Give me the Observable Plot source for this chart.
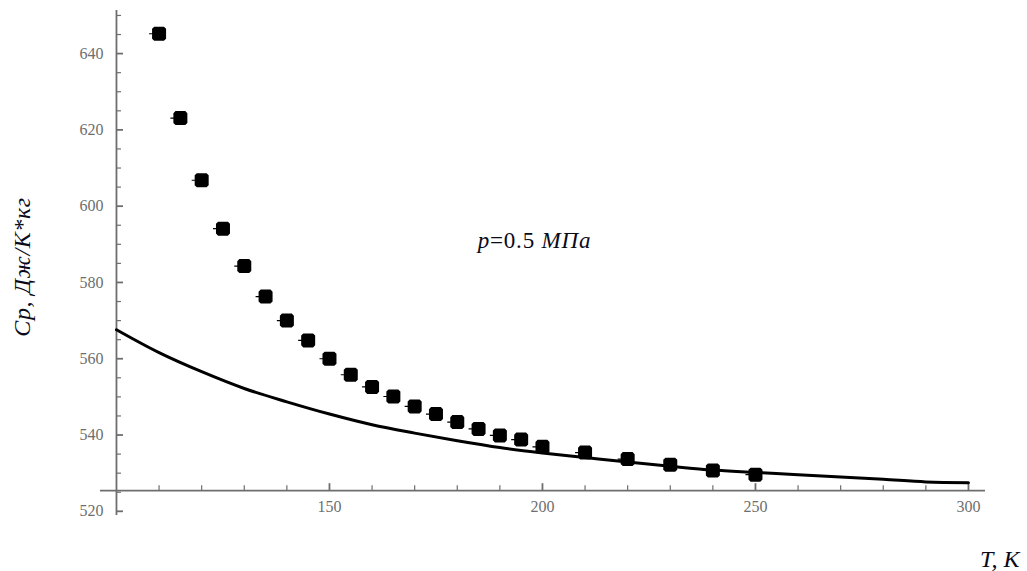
<!DOCTYPE html>
<html><head><meta charset="utf-8">
<script src="https://cdn.jsdelivr.net/npm/d3@7"></script>
<script src="https://cdn.jsdelivr.net/npm/@observablehq/plot@0.6"></script>
<style>
html,body{margin:0;padding:0;background:#fff}
#chart{width:1027px;height:571px}
#chart svg text{font-family:"Liberation Serif","Times New Roman",serif}
</style>
</head><body><div id="chart"></div>
<script>
// Experimental points
const expT  = [110,115,120,125,130,135,140,145,150,155,160,165,170,175,180,185,190,195,200,210,220,230,240,250];
const expCp = [645.2,623.1,606.8,594.1,584.3,576.3,570.0,564.8,560.0,555.8,552.6,550.1,547.5,545.5,543.4,541.6,539.9,538.8,536.9,535.4,533.7,532.2,530.7,529.6];
// Calculated curve
const calcT  = [100,110,120,130,140,150,160,170,180,190,200,210,220,230,240,250,260,270,280,290,300];
const calcCp = [567.6,561.6,556.6,552.2,548.7,545.5,542.7,540.5,538.5,536.7,535.3,534.1,532.9,531.8,530.8,530.2,529.6,529.0,528.4,527.7,527.5];
// Ticks
const yMajor = [520,540,560,580,600,620,640];
const yMinor = [525,530,535,545,550,555,565,570,575,585,590,595,605,610,615,625,630,635,645,650];
const xMajor = [150,200,250,300];
const xMinor = [110,120,130,140,160,170,180,190,210,220,230,240,260,270,280,290];
// Texts
const yTitle = "Cp, Дж/К*кг";
const xTitle = "T, K";
const note = "p=0.5 МПа";
const noteX = 184.8, noteY = 591.0;
const originX = 100, originY = 525.4;

const W = 1027, H = 571;
const mL = 100, mR = 42, mT = 10, mB = 56;
const xDomain = [96.25, 304], yDomain = [518.9, 651.3];

const xs = Plot.scale({x: {domain: xDomain, range: [mL, W - mR]}});
const ys = Plot.scale({y: {domain: yDomain, range: [H - mB, mT]}});
const axDx = xs.apply(originX) - mL;
const axDy = ys.apply(originY) - (H - mB);

const expData = expT.map((t, i) => ({T: t, Cp: expCp[i]}));
const calcData = calcT.map((t, i) => ({T: t, Cp: calcCp[i]}));

const pointSymbol = {
  draw(ctx, size) {
    const r = Math.sqrt(size / Math.PI);
    const c = r * 0.3;
    ctx.moveTo(-r + c, -r);
    ctx.lineTo(r - c, -r);
    ctx.lineTo(r, -r + c);
    ctx.lineTo(r, r - c);
    ctx.lineTo(r - c, r);
    ctx.lineTo(-r + c, r);
    ctx.lineTo(-r, r - c);
    ctx.lineTo(-r, -r + c);
    ctx.closePath();
    ctx.moveTo(-r - 3, -0.6);
    ctx.lineTo(-r, -0.6);
    ctx.lineTo(-r, 0.6);
    ctx.lineTo(-r - 3, 0.6);
    ctx.closePath();
  }
};

const axisColor = "#6e6e6e";
const serif = "Liberation Serif, Times New Roman, serif";

const chart = Plot.plot({
  width: W, height: H,
  marginLeft: mL, marginRight: mR, marginTop: mT, marginBottom: mB,
  x: {domain: xDomain, axis: null},
  y: {domain: yDomain, axis: null},
  style: {fontFamily: serif, fontSize: "16px", background: "#fff", overflow: "visible"},
  marks: [
    Plot.ruleX([originX], {stroke: axisColor, strokeWidth: 1.8}),
    Plot.ruleY([originY], {stroke: axisColor, strokeWidth: 1.8}),
    Plot.axisY(yMinor, {anchor: "left", tickSize: -5, dx: axDx, fill: "none", stroke: axisColor, strokeWidth: 1.2, label: null}),
    Plot.axisY(yMajor, {anchor: "left", tickSize: -7, dx: axDx, fill: "none", stroke: axisColor, strokeWidth: 1.8, label: null}),
    Plot.axisY(yMajor, {anchor: "left", tickSize: 0, tickPadding: 13, dx: axDx, fill: axisColor, label: null, fontSize: 16, fontFamily: serif}),
    Plot.axisX(xMinor, {anchor: "bottom", tickSize: -5, dy: axDy, fill: "none", stroke: axisColor, strokeWidth: 1.2, label: null}),
    Plot.axisX(xMajor, {anchor: "bottom", tickSize: -7, dy: axDy, fill: "none", stroke: axisColor, strokeWidth: 1.8, label: null}),
    Plot.axisX(xMajor, {anchor: "bottom", tickSize: 0, tickPadding: 10, dy: axDy, fill: axisColor, label: null, fontSize: 16, fontFamily: serif}),
    Plot.line(calcData, {x: "T", y: "Cp", stroke: "#000", strokeWidth: 3, curve: "monotone-x"}),
    Plot.dot(expData, {x: "T", y: "Cp", r: 7, symbol: pointSymbol, fill: "#000", stroke: "none"}),
    Plot.text([yTitle], {frameAnchor: "left", textAnchor: "middle", rotate: -90, dx: -78, dy: 4, fontSize: 24, fontStyle: "italic", fontFamily: serif, fill: "#0a0a1a", className: "ytitle"}),
    Plot.text([xTitle], {frameAnchor: "bottom-right", textAnchor: "end", lineAnchor: "middle", dx: 34, dy: 44, fontSize: 24, fontStyle: "italic", fontFamily: serif, fill: "#0a0a1a"}),
    Plot.text([note], {x: () => noteX, y: () => noteY, textAnchor: "start", lineAnchor: "middle", fontSize: 23, fontFamily: serif, fill: "#0a0a1a", className: "note"})
  ]
});
document.getElementById("chart").appendChild(chart);

d3.select(chart).selectAll("g.ytitle text").style("letter-spacing", "0.6px");
// mixed italic / upright styling of the annotation
d3.select(chart).selectAll("g.note text").each(function() {
  const t = d3.select(this);
  t.text(null).style("letter-spacing", "0.8px");
  t.append("tspan").attr("font-style", "italic").text("p");
  t.append("tspan").text("=0.5 ");
  t.append("tspan").attr("font-style", "italic").text("МПа");
});
</script>
</body></html>
